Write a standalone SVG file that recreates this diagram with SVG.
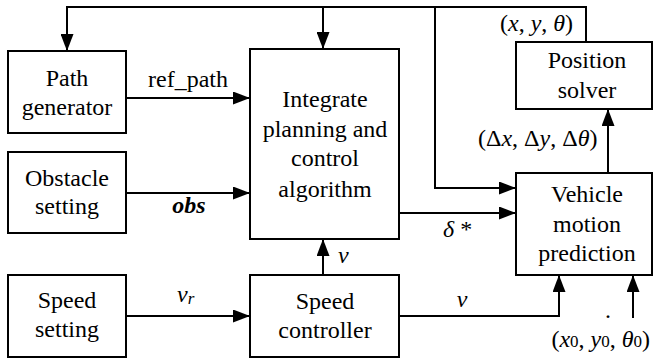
<svg xmlns="http://www.w3.org/2000/svg" width="653" height="358" viewBox="0 0 653 358" font-family="'Liberation Serif', 'Times New Roman', 'DejaVu Serif', serif">
  <style>
    .box { fill: #ffffff; stroke: #000000; stroke-width: 2; }
    .wire { fill: none; stroke: #000000; stroke-width: 2; }
    text { font-family: 'Liberation Serif', 'Times New Roman', 'DejaVu Serif', serif; font-size: 24px; fill: #000000; }
    .c { text-anchor: middle; }
    .i { font-style: italic; }
    .sub { font-size: 17px; }
  </style>
  <defs>
    <marker id="arrow" viewBox="0 0 17 13" refX="17" refY="6.5" markerWidth="17" markerHeight="13" markerUnits="userSpaceOnUse" orient="auto">
      <path d="M0,0 L17,6.5 L0,13 Z" fill="#000000"/>
    </marker>
  </defs>
  <rect width="653" height="358" fill="#ffffff"/>

  <g id="connectors">
    <!-- feedback bus from the position solver -->
    <path class="wire" d="M586,42 V7 H67 V51" marker-end="url(#arrow)"/>
    <path class="wire" d="M323,7 V49" marker-end="url(#arrow)"/>
    <path class="wire" d="M435,7 V188 H516" marker-end="url(#arrow)"/>
    <!-- inputs to the planner -->
    <path class="wire" d="M127,98 H250" marker-end="url(#arrow)"/>
    <path class="wire" d="M127,193 H250" marker-end="url(#arrow)"/>
    <path class="wire" d="M323,275 V239" marker-end="url(#arrow)"/>
    <!-- planner output -->
    <path class="wire" d="M399,213 H516" marker-end="url(#arrow)"/>
    <!-- speed chain -->
    <path class="wire" d="M127,316 H250" marker-end="url(#arrow)"/>
    <path class="wire" d="M399,316 H559 V275" marker-end="url(#arrow)"/>
    <path class="wire" d="M633,318 V275" marker-end="url(#arrow)"/>
    <!-- prediction to solver -->
    <path class="wire" d="M608,173 V109" marker-end="url(#arrow)"/>

    <text x="188" y="87" class="c">ref_path</text>
    <text x="189" y="213" class="c" font-weight="bold" font-style="italic">obs</text>
    <text x="177" y="302"><tspan class="i">v</tspan><tspan class="i sub" dy="2">r</tspan></text>
    <text x="338" y="263" class="i">v</text>
    <text x="462" y="307" class="c i">v</text>
    <text x="443" y="237"><tspan class="i">δ</tspan> *</text>
    <text x="500" y="31">(<tspan class="i">x</tspan>, <tspan class="i">y</tspan>, <tspan class="i">θ</tspan>)</text>
    <text x="478" y="146">(Δ<tspan class="i">x</tspan>, Δ<tspan class="i">y</tspan>, Δ<tspan class="i">θ</tspan>)</text>
    <text x="605" y="318" font-size="12">.</text>
    <text x="650" y="347" text-anchor="end">(<tspan class="i">x</tspan><tspan class="sub">0</tspan>, <tspan class="i">y</tspan><tspan class="sub">0</tspan>, <tspan class="i">θ</tspan><tspan class="sub">0</tspan>)</text>
  </g>

  <g id="path-generator">
    <rect class="box" x="8" y="51" width="118" height="82"/>
    <text x="67" y="86" class="c">Path</text>
    <text x="67" y="115" class="c">generator</text>
  </g>

  <g id="obstacle-setting">
    <rect class="box" x="8" y="152" width="118" height="81"/>
    <text x="67" y="186" class="c">Obstacle</text>
    <text x="67" y="214" class="c">setting</text>
  </g>

  <g id="speed-setting">
    <rect class="box" x="8" y="275" width="118" height="82"/>
    <text x="67" y="308" class="c">Speed</text>
    <text x="67" y="337" class="c">setting</text>
  </g>

  <g id="planner">
    <rect class="box" x="250" y="49" width="149" height="190"/>
    <text x="325" y="107" class="c">Integrate</text>
    <text x="325" y="137" class="c">planning and</text>
    <text x="325" y="166" class="c">control</text>
    <text x="325" y="197" class="c">algorithm</text>
  </g>

  <g id="speed-controller">
    <rect class="box" x="250" y="275" width="149" height="82"/>
    <text x="325" y="309" class="c">Speed</text>
    <text x="325" y="338" class="c">controller</text>
  </g>

  <g id="position-solver">
    <rect class="box" x="516" y="42" width="136" height="67"/>
    <text x="587" y="68" class="c">Position</text>
    <text x="587" y="98" class="c">solver</text>
  </g>

  <g id="vehicle-motion">
    <rect class="box" x="516" y="173" width="136" height="102"/>
    <text x="587" y="202" class="c">Vehicle</text>
    <text x="587" y="232" class="c">motion</text>
    <text x="587" y="261" class="c">prediction</text>
  </g>
</svg>
